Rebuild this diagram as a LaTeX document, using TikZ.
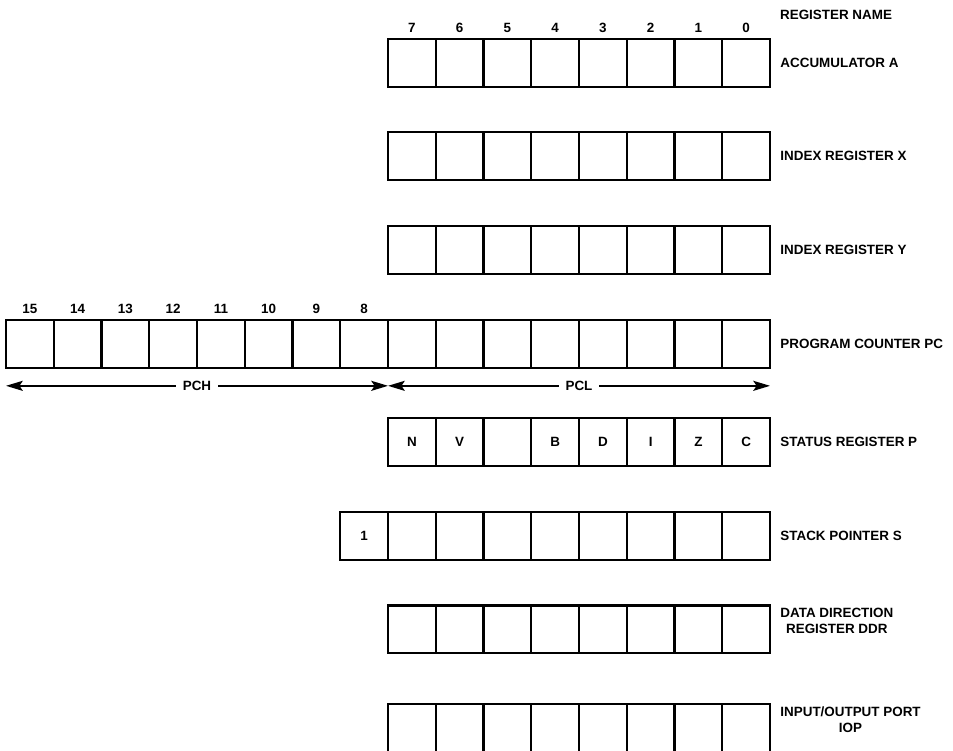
\documentclass[tikz,border=0pt]{standalone}
\usepackage{fontspec}
\setmainfont{Liberation Sans}
\usetikzlibrary{arrows.meta,positioning}
\tikzset{
  cell/.style={draw, line width=1.25pt, minimum width=1cm, minimum height=1cm, inner sep=0pt, outer sep=0pt, anchor=north west, font=\bfseries\fontsize{8}{9}\selectfont},
  bitno/.style={inner sep=0pt, font=\bfseries\fontsize{8}{9}\selectfont},
  regname/.style={anchor=west, align=center, inner sep=0pt, font=\bfseries\fontsize{8}{9.5}\selectfont},
  span/.style={{Stealth[length=10pt,width=6pt,inset=2pt]}-{Stealth[length=10pt,width=6pt,inset=2pt]}, line width=0.9pt},
}
\begin{document}
\begin{tikzpicture}
  \useasboundingbox (0,0) rectangle (19.958,-15.707);
  % 8-bit registers
  \foreach \r/\y in {A/0.82, X/2.77, Y/4.74, PC/6.70, S/10.73, DDR/12.68, IOP/14.74}
    \foreach \b in {0,...,7}
      \node[cell] (\r-\b) at (15.126-\b,-\y) {};
  % high byte of PC, page bit of S
  \foreach \b in {8,...,15}
    \node[cell] (PC-\b) at (15.126-\b,-6.70) {};
  \node[cell] (S-8) at (7.126,-10.73) {1};
  % status flags
  \foreach \b/\f in {7/N, 6/V, 5/{}, 4/B, 3/D, 2/I, 1/Z, 0/C}
    \node[cell] (P-\b) at (15.126-\b,-8.76) {\f};
  % bit numbers
  \foreach \b in {0,...,7}
    \node[bitno, above=3.8pt of A-\b] (nA-\b) {\b};
  \foreach \b in {8,...,15}
    \node[bitno, above=3.8pt of PC-\b] (nPC-\b) {\b};
  % names
  \node[regname] (title) at (16.33,-0.31) {REGISTER NAME};
  \node[regname, right=6pt of A-0] (lA) {ACCUMULATOR A};
  \node[regname, right=6pt of X-0] (lX) {INDEX REGISTER X};
  \node[regname, right=6pt of Y-0] (lY) {INDEX REGISTER Y};
  \node[regname, right=6pt of PC-0] (lPC) {PROGRAM COUNTER PC};
  \node[regname, right=6pt of P-0] (lP) {STATUS REGISTER P};
  \node[regname, right=6pt of S-0] (lS) {STACK POINTER S};
  \node[regname, right=6pt of DDR-0, yshift=5pt] (lDDR) {DATA DIRECTION\\REGISTER DDR};
  \node[regname, right=6pt of IOP-0, yshift=5pt] (lIOP) {INPUT/OUTPUT PORT\\IOP};
  % PCH / PCL spans
  \coordinate (pch-l) at ([yshift=-0.38cm]PC-15.south west);
  \coordinate (pch-r) at ([yshift=-0.38cm]PC-8.south east);
  \coordinate (pcl-r) at ([yshift=-0.38cm]PC-0.south east);
  \draw[span] (pch-l) -- (pch-r) node[bitno, midway, fill=white, inner xsep=4pt, inner ysep=2pt] {PCH};
  \draw[span] (pch-r) -- (pcl-r) node[bitno, midway, fill=white, inner xsep=4pt, inner ysep=2pt] {PCL};
\end{tikzpicture}
\end{document}
